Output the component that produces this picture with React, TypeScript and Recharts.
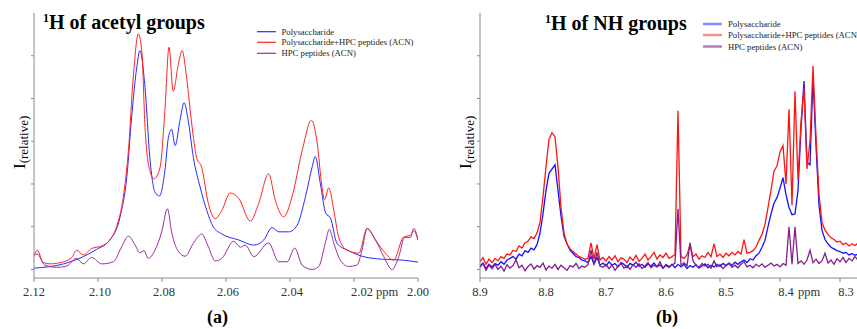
import React from "react";
import { LineChart, Line, XAxis, YAxis } from "recharts";

// ---- panel (a): 1H of acetyl groups, [ppm, relative intensity] ----
const acetylPolysaccharide: [number, number][] = [
  [2.12, 0.03], [2.1108, 0.13], [2.1046, 0.3], [2.1004, 0.47], [2.0963, 0.69], [2.0931, 1.23],
  [2.091, 2.16], [2.0895, 3.55], [2.0879, 4.72], [2.0869, 5.12], [2.0853, 4.25], [2.0838, 2.62],
  [2.0822, 1.81], [2.0808, 1.72], [2.0791, 2.31], [2.078, 3.09], [2.077, 3.28], [2.0759, 2.9],
  [2.0744, 3.48], [2.0731, 3.9], [2.0718, 3.48], [2.0702, 2.62], [2.0681, 1.93], [2.066, 1.38],
  [2.064, 1.0], [2.0613, 0.83], [2.056, 0.69], [2.0513, 0.57], [2.0482, 0.69], [2.0456, 0.98],
  [2.0435, 0.88], [2.0404, 0.88], [2.0378, 1.03], [2.0352, 1.69], [2.0331, 2.39], [2.0321, 2.64],
  [2.0305, 2.0], [2.0288, 1.31], [2.0274, 1.21], [2.0253, 0.61], [2.0217, 0.44], [2.0175, 0.31],
  [2.0113, 0.24], [2.005, 0.22], [2.0, 0.17],
];
const acetylMixture: [number, number][] = [
  [2.12, 0.3], [2.119, 0.45], [2.1171, 0.16], [2.115, 0.13], [2.1108, 0.18], [2.1082, 0.28],
  [2.1067, 0.45], [2.1046, 0.34], [2.102, 0.49], [2.0988, 0.55], [2.0963, 0.69], [2.0942, 1.0],
  [2.0921, 1.69], [2.0905, 2.78], [2.089, 4.48], [2.0874, 5.51], [2.0863, 5.1], [2.0853, 3.32],
  [2.0838, 2.31], [2.0825, 2.12], [2.0806, 2.39], [2.0791, 3.71], [2.0778, 5.2], [2.0765, 4.17],
  [2.0749, 4.8], [2.0737, 5.12], [2.0723, 4.48], [2.0707, 3.4], [2.0692, 2.62], [2.0676, 2.39],
  [2.0655, 1.54], [2.0634, 1.19], [2.0613, 1.38], [2.0587, 1.79], [2.056, 1.66], [2.0524, 1.13],
  [2.0498, 1.54], [2.0467, 2.24], [2.0446, 1.62], [2.042, 1.23], [2.0394, 1.69], [2.0362, 2.78],
  [2.0333, 3.49], [2.0316, 3.01], [2.03, 1.93], [2.0292, 1.63], [2.0279, 1.91], [2.0263, 1.38],
  [2.0248, 0.76], [2.0222, 0.45], [2.0185, 0.38], [2.0159, 0.96], [2.0133, 0.69], [2.0102, 0.38],
  [2.0076, 0.22], [2.0045, 0.76], [2.0024, 0.8], [2.0013, 0.9], [2.0, 0.69],
];
const acetylPeptides: [number, number][] = [
  [2.12, 0.34], [2.119, 0.36], [2.1166, 0.1], [2.1129, 0.05], [2.1098, 0.08], [2.1067, 0.26],
  [2.1046, 0.13], [2.102, 0.28], [2.0988, 0.13], [2.0952, 0.18], [2.0926, 0.53], [2.0905, 0.78],
  [2.0884, 0.57], [2.0869, 0.39], [2.0856, 0.44], [2.0843, 0.26], [2.0822, 0.45], [2.0801, 0.88],
  [2.0783, 1.42], [2.077, 0.88], [2.0754, 0.49], [2.0728, 0.31], [2.0702, 0.61], [2.0676, 0.83],
  [2.0655, 0.53], [2.0634, 0.2], [2.0613, 0.26], [2.0576, 0.66], [2.0555, 0.52], [2.054, 0.57],
  [2.0513, 0.3], [2.0467, 0.62], [2.0435, 0.18], [2.0409, 0.18], [2.0385, 0.5], [2.0362, 0.1],
  [2.0331, 0.0], [2.031, 0.07], [2.029, 0.61], [2.0277, 0.94], [2.0263, 0.61], [2.0243, 0.22],
  [2.0217, 0.07], [2.0191, 0.1], [2.0175, 0.45], [2.0159, 0.96], [2.0133, 0.69], [2.0107, 0.3],
  [2.0081, 0.0], [2.006, 0.3], [2.0042, 0.75], [2.0024, 0.75], [2.0013, 0.96], [2.0, 0.69],
];
const acetylTicks = [2.12, 2.1, 2.08, 2.06, 2.04, 2.02, 2.0];

// ---- panel (b): 1H of NH groups, sampled every 0.005 ppm ----
const nhPpm = [
  8.9, 8.895, 8.89, 8.885, 8.88, 8.875, 8.87, 8.865, 8.86, 8.855,
  8.85, 8.845, 8.84, 8.835, 8.83, 8.825, 8.82, 8.815, 8.81, 8.805,
  8.8, 8.795, 8.79, 8.785, 8.78, 8.775, 8.77, 8.765, 8.76, 8.755,
  8.75, 8.745, 8.74, 8.735, 8.73, 8.725, 8.72, 8.715, 8.71, 8.705,
  8.7, 8.695, 8.69, 8.685, 8.68, 8.675, 8.67, 8.665, 8.66, 8.655,
  8.65, 8.645, 8.64, 8.635, 8.63, 8.625, 8.62, 8.615, 8.61, 8.605,
  8.6, 8.595, 8.59, 8.585, 8.58, 8.575, 8.57, 8.565, 8.56, 8.555,
  8.55, 8.545, 8.54, 8.535, 8.53, 8.525, 8.52, 8.515, 8.51, 8.505,
  8.5, 8.495, 8.49, 8.485, 8.48, 8.475, 8.47, 8.465, 8.46, 8.455,
  8.45, 8.445, 8.44, 8.435, 8.43, 8.425, 8.42, 8.415, 8.41, 8.405,
  8.4, 8.395, 8.39, 8.385, 8.38, 8.375, 8.37, 8.365, 8.36, 8.355,
  8.35, 8.345, 8.34, 8.335, 8.33, 8.325, 8.32, 8.315, 8.31, 8.305,
  8.3, 8.295, 8.29, 8.285, 8.28, 8.275, 8.27, 8.265, 8.26, 8.255,
  8.25,
];
const nhPolysaccharide = [
  0.08, 0.15, 0.02, 0.12, 0.06, 0.14, 0.1, 0.18, 0.12, 0.22,
  0.26, 0.3, 0.24, 0.36, 0.32, 0.44, 0.4, 0.5, 0.46, 0.58,
  0.85, 1.3, 1.85, 2.25, 2.35, 2.45, 1.85, 1.25, 0.78, 0.6,
  0.45, 0.38, 0.3, 0.28, 0.22, 0.2, 0.16, 0.3, 0.12, 0.28,
  0.1, 0.15, 0.08, 0.18, 0.1, 0.14, 0.06, 0.16, 0.12, 0.04,
  0.14, 0.1, 0.17, 0.07, 0.12, 0.05, 0.13, 0.08, 0.15, 0.06,
  0.11, 0.03, 0.1, 0.05, 0.12, 0.04, 0.12, 0.06, 0.12, 0.02,
  0.09, 0.05, 0.11, 0.03, 0.08, 0.13, 0.04, 0.1, 0.06, 0.12,
  0.07, 0.14, 0.09, 0.15, 0.1, 0.17, 0.12, 0.18, 0.22, 0.16,
  0.25, 0.22, 0.32, 0.38, 0.52, 0.68, 1.0, 1.3, 1.55, 1.68,
  1.9, 2.15, 1.75, 1.45, 1.28, 1.3, 1.85, 3.3, 4.41, 2.5,
  2.45, 4.48, 2.9, 1.5, 0.92, 0.7, 0.6, 0.52, 0.48, 0.44,
  0.42, 0.38, 0.4, 0.34, 0.37, 0.33, 0.36, 0.32, 0.35, 0.3,
  0.34,
];
const nhMixture = [
  0.18, 0.28, 0.12, 0.24, 0.16, 0.26, 0.2, 0.3, 0.26, 0.36,
  0.34, 0.45, 0.42, 0.55, 0.5, 0.62, 0.66, 0.76, 0.72, 0.85,
  1.1, 1.7, 2.4, 3.05, 3.2, 3.1, 2.4, 1.45, 0.85, 0.6,
  0.48, 0.42, 0.36, 0.3, 0.28, 0.24, 0.26, 0.62, 0.25, 0.58,
  0.22, 0.28, 0.2, 0.3, 0.22, 0.32, 0.18, 0.27, 0.24, 0.16,
  0.29, 0.21, 0.33, 0.19, 0.26, 0.36, 0.22, 0.3, 0.4, 0.24,
  0.34, 0.28, 0.38, 0.26, 0.3, 0.35, 3.71, 0.3, 0.26, 0.34,
  0.58, 0.3, 0.36, 0.24, 0.32, 0.28, 0.4, 0.3, 0.6, 0.3,
  0.36, 0.28, 0.38, 0.32, 0.4, 0.34, 0.42, 0.36, 0.7, 0.38,
  0.4, 0.44, 0.52, 0.68, 0.82, 1.05, 1.45, 1.85, 2.3, 2.42,
  2.75, 2.9, 2.0, 3.75, 1.5, 4.17, 2.1, 3.45, 4.25, 2.35,
  3.0, 4.76, 3.1, 1.75, 1.1, 0.92, 0.82, 0.74, 0.7, 0.64,
  0.66, 0.58, 0.62, 0.55, 0.6, 0.56, 0.62, 0.57, 0.63, 0.58,
  0.61,
];
const nhPeptides = [
  0.05, 0.14, -0.02, 0.1, 0.02, 0.12, 0.0, 0.08, -0.04, 0.11,
  0.03, 0.09, 0.22, 0.04, 0.1, -0.03, 0.07, 0.13, 0.01, 0.09,
  0.05, 0.15, -0.01, 0.08, 0.03, 0.12, 0.0, 0.1, 0.04, -0.02,
  0.09, 0.06, 0.14, 0.02, 0.08, 0.05, 0.11, 0.45, 0.12, 0.4,
  0.08, 0.05, 0.12, 0.02, 0.1, -0.02, 0.08, 0.14, 0.03, 0.09,
  0.0, 0.11, 0.05, 0.13, 0.02, 0.08, 0.16, 0.04, 0.1, 0.06,
  0.18, 0.03, 0.12, 0.07, 0.1, 0.15, 1.42, 0.1, 0.16, 0.08,
  0.62, 0.2, 0.1, 0.05, 0.14, 0.08, 0.12, 0.03, 0.2, 0.06,
  0.11, 0.02, 0.09, 0.14, 0.05, 0.1, 0.04, 0.12, 0.18, 0.06,
  0.1, 0.04, 0.12, 0.07, 0.13, 0.05, 0.1, 0.15, 0.08, 0.12,
  0.06, 0.14, 0.1, 1.0, 0.12, 1.0, 0.14, 0.2, 0.12, 0.22,
  0.45, 0.16, 0.24, 0.14, 0.2, 0.38, 0.15, 0.22, 0.12, 0.25,
  0.18, 0.28, 0.16, 0.26, 0.2, 0.3, 0.22, 0.28, 0.24, 0.32,
  0.26,
];
const nhTicks = [8.9, 8.8, 8.7, 8.6, 8.5, 8.4, 8.3];

const legendLabels = ["Polysaccharide", "Polysaccharide+HPC peptides (ACN)", "HPC peptides (ACN)"];
const yTicks = [0, 1, 2, 3, 4, 5];

const FRAME = "#8a8a8a";
const SERIF = "'Liberation Serif', 'Times New Roman', serif";
const colorsA = ["#2a2aff", "#ff2424", "#9a2ea0"];
const colorsB = ["#1212ff", "#ff1414", "#821e8c"];
const legendB = ["#8a8aff", "#ff8a8a", "#b57ac0"];
const legendRowsA = [31.7, 42.3, 53.3];
const legendRowsB = [24, 35, 46.5];

const pairs = (rows: [number, number][]) => rows.map(([ppm, v]) => ({ ppm, v }));
const zipped = (ppm: number[], vals: number[]) => ppm.map((p, i) => ({ ppm: p, v: vals[i] }));

const AcetylTick = (props: any) => {
  const { x, y, payload } = props;
  const val = payload.value;
  const dx = val === 2.02 ? 8 : val === 2.12 || val === 2.0 ? 0 : 2;
  return (
    <text x={x + dx} y={y} dy="0.71em" textAnchor="middle" fontSize={12.5}
      style={{ fontFamily: SERIF }} fill="#333">
      {val.toFixed(2)}
    </text>
  );
};

const NhTick = (props: any) => {
  const { x, y, payload } = props;
  const val = payload.value;
  const dx = val >= 8.9 ? 0 : 6;
  return (
    <text x={x + dx} y={y} dy="0.71em" textAnchor="middle" fontSize={12.5}
      style={{ fontFamily: SERIF }} fill="#333">
      {val.toFixed(1)}
    </text>
  );
};

const axisLine = { stroke: FRAME, strokeWidth: 1 };

export default function App() {
  return (
    <div style={{ position: "fixed", left: 0, top: 0, width: 857, height: 329, overflow: "hidden", background: "#fff" }}>
      <div style={{ position: "absolute", left: 0, top: 0 }}>
        <LineChart width={430} height={329} margin={{ top: 13, right: 12, bottom: 21, left: 4 }}>
          <XAxis dataKey="ppm" type="number" domain={[2.0, 2.12]} reversed ticks={acetylTicks}
            allowDataOverflow axisLine={axisLine} tickLine={{ stroke: FRAME }} tickSize={4} tickMargin={5}
            height={30} tick={<AcetylTick />} interval={0} />
          <XAxis xAxisId="top" orientation="top" type="number" domain={[2.0, 2.12]} reversed height={0}
            tick={false} tickLine={false} axisLine={axisLine} />
          <YAxis type="number" domain={[-0.2, 6]} ticks={yTicks} width={30} tickSize={3}
            tickFormatter={() => ""} axisLine={axisLine} tickLine={{ stroke: FRAME }} allowDataOverflow />
          <YAxis yAxisId="right" orientation="right" type="number" domain={[-0.2, 6]} width={0}
            tick={false} tickLine={false} axisLine={axisLine} />
          <Line data={pairs(acetylPolysaccharide)} dataKey="v" type="monotone" stroke={colorsA[0]}
            strokeWidth={1} dot={false} isAnimationActive={false} />
          <Line data={pairs(acetylMixture)} dataKey="v" type="monotone" stroke={colorsA[1]}
            strokeWidth={1} dot={false} isAnimationActive={false} />
          <Line data={pairs(acetylPeptides)} dataKey="v" type="monotone" stroke={colorsA[2]}
            strokeWidth={1} dot={false} isAnimationActive={false} />
        </LineChart>
      </div>
      <div style={{ position: "absolute", left: 430, top: 0 }}>
        <LineChart width={440} height={329} margin={{ top: 13, right: 0, bottom: 21, left: 4 }}>
          <XAxis dataKey="ppm" type="number" domain={[8.25, 8.9]} reversed ticks={nhTicks}
            allowDataOverflow axisLine={axisLine} tickLine={{ stroke: FRAME }} tickSize={4} tickMargin={5}
            height={30} tick={<NhTick />} interval={0} />
          <XAxis xAxisId="top" orientation="top" type="number" domain={[8.25, 8.9]} reversed height={0}
            tick={false} tickLine={false} axisLine={axisLine} />
          <YAxis type="number" domain={[-0.2, 6]} ticks={yTicks} width={46} tickSize={3}
            tickFormatter={() => ""} axisLine={axisLine} tickLine={{ stroke: FRAME }} allowDataOverflow />
          <Line data={zipped(nhPpm, nhPolysaccharide)} dataKey="v" type="linear" stroke={colorsB[0]}
            strokeWidth={1.3} dot={false} isAnimationActive={false} />
          <Line data={zipped(nhPpm, nhMixture)} dataKey="v" type="linear" stroke={colorsB[1]}
            strokeWidth={1.3} dot={false} isAnimationActive={false} />
          <Line data={zipped(nhPpm, nhPeptides)} dataKey="v" type="linear" stroke={colorsB[2]}
            strokeWidth={1.3} dot={false} isAnimationActive={false} />
        </LineChart>
      </div>
      <svg width={857} height={329} style={{ position: "absolute", left: 0, top: 0, pointerEvents: "none" }}>
        <g style={{ fontFamily: SERIF }} fill="#000">
          <text x={43} y={29} fontWeight="bold">
            <tspan fontSize={12} dy={-7}>1</tspan>
            <tspan fontSize={20} dy={7}>H of acetyl groups</tspan>
          </text>
          <text x={545} y={30} fontWeight="bold">
            <tspan fontSize={12} dy={-7}>1</tspan>
            <tspan fontSize={20} dy={7}>H of NH groups</tspan>
          </text>
          {legendLabels.map((label, i) => (
            <g key={"la" + i}>
              <line x1={257} x2={276} y1={legendRowsA[i]} y2={legendRowsA[i]} stroke={colorsA[i]} strokeWidth={1.2} />
              <text x={281.5} y={legendRowsA[i] + 3} fontSize={8.7} fill="#222">{label}</text>
            </g>
          ))}
          {legendLabels.map((label, i) => (
            <g key={"lb" + i}>
              <line x1={703} x2={722} y1={legendRowsB[i]} y2={legendRowsB[i]} stroke={legendB[i]} strokeWidth={2.5} />
              <text x={728} y={legendRowsB[i] + 3} fontSize={8.7} fill="#222">{label}</text>
            </g>
          ))}
          <text transform="translate(25,169) rotate(-90)">
            <tspan fontSize={17}>I</tspan>
            <tspan fontSize={13} dy={3}>(relative)</tspan>
          </text>
          <text transform="translate(471,169) rotate(-90)">
            <tspan fontSize={17}>I</tspan>
            <tspan fontSize={13} dy={3}>(relative)</tspan>
          </text>
          <text x={387} y={296} fontSize={12.5} textAnchor="middle" fill="#333">ppm</text>
          <text x={809} y={296} fontSize={12.5} textAnchor="middle" fill="#333">ppm</text>
          <text x={217.5} y={323} fontSize={18} fontWeight="bold" textAnchor="middle">(a)</text>
          <text x={667} y={323} fontSize={18} fontWeight="bold" textAnchor="middle">(b)</text>
        </g>
      </svg>
    </div>
  );
}
